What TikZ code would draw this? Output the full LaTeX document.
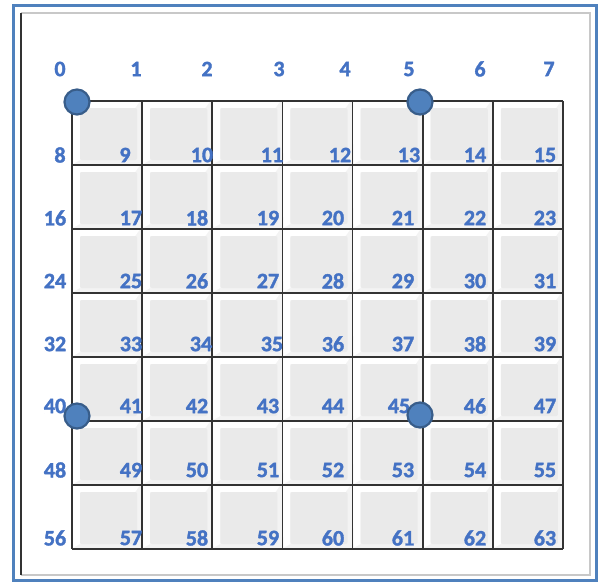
\documentclass[tikz,border=0pt]{standalone}
\usepackage{fontspec}
\setmainfont{Carlito}
\newfontfamily\lblfont{Carlito Bold}[FakeBold=1.6]
\definecolor{lblue}{HTML}{4472C4}
\definecolor{dotfill}{HTML}{4F81BD}
\definecolor{dotline}{HTML}{385D8A}
\definecolor{gridc}{HTML}{333333}
\definecolor{cellbase}{HTML}{F3F3F3}
\definecolor{cellgray}{HTML}{EAEAEA}
\definecolor{framec}{HTML}{4F81BD}
\definecolor{frameinner}{HTML}{C8C8C8}
\tikzset{
  lbl/.style={inner sep=0pt, anchor=center, text=lblue, font=\fontsize{22}{22}\lblfont},
  dot/.style={circle, minimum size=25pt, inner sep=0pt, fill=dotfill, draw=dotline, line width=2.2pt},
  gridline/.style={draw=gridc, line width=1.8pt},
}
\newcommand\labelrow[3]{%
  \foreach \x [count=\c from 0, evaluate=\c as \n using {int(8*#1+\c)}] in {#3} {%
    \node[lbl] (l\n) at (\x,#2) {\n};
  }%
}
\begin{document}
\begin{tikzpicture}[x=1pt,y=-1pt]
\useasboundingbox (0,0) rectangle (599,582);
\fill[white] (0,0) rectangle (599,582);
% frame
\draw[framec, line width=3pt] (13.5,5.5) rectangle (596.5,580);
\draw[frameinner, line width=1.5pt] (21,13) -- (590,13) -- (590,575) -- (21,575);
\draw[gridc, line width=2.5pt] (21,13) -- (21,575);
% cells
\foreach \i in {0,...,6} {
  \foreach \j in {0,...,6} {
    \pgfmathsetmacro\xa{72+70.14*\i}
    \pgfmathsetmacro\ya{101+64*\j}
    \pgfmathsetmacro\xb{\xa+70.14}
    \pgfmathsetmacro\yb{\ya+64}
    \fill[cellbase] (\xa,\ya) rectangle (\xb,\yb);
    \fill[white] (\xa,\ya) -- (\xb-2,\ya) -- (\xb-7,\ya+7) -- (\xa+8,\ya+7) -- (\xa+8,\yb-5) -- (\xa+1,\yb-1) -- cycle;
    \fill[cellgray, rounded corners=2pt] (\xa+8,\ya+7) rectangle (\xb-5,\yb-5);
  }
}
% grid
\foreach \k in {0,...,7} {
  \pgfmathsetmacro\xx{72+70.14*\k}
  \pgfmathsetmacro\yy{101+64*\k}
  \draw[gridline] (72,\yy) -- (563,\yy);
  \draw[gridline] (\xx,101) -- (\xx,549);
}
% labels
\labelrow{0}{69}{60,136,207,279,345,409,480,549}
\labelrow{1}{155}{60,125,202,272,340,409,475,545}
\labelrow{2}{218}{55,131,197,268,333,403,475,545}
\labelrow{3}{281}{55,131,197,268,333,403,475,545}
\labelrow{4}{344}{55,131,201,272,333,403,475,545}
\labelrow{5}{406}{55,131,197,268,333,399,475,545}
\labelrow{6}{470}{55,131,197,268,333,403,475,545}
\labelrow{7}{538}{55,131,197,268,333,403,475,545}
% dots
\node[dot] (d0) at (77,102) {};
\node[dot] (d5) at (420,102) {};
\node[dot] (d40) at (77,416) {};
\node[dot] (d45) at (420,415) {};
\end{tikzpicture}
\end{document}
